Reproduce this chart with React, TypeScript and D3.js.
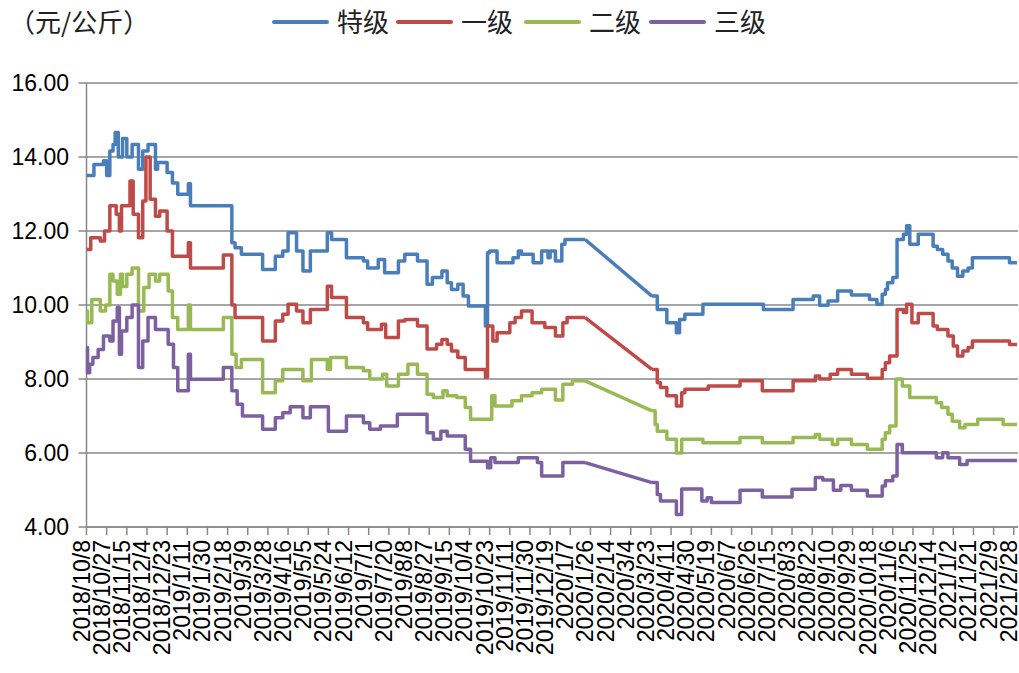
import React, { useEffect, useRef } from 'react';
import * as d3 from 'd3';

// x axis tick labels (every 19 days)
const xTickLabels = [
  '2018/10/8', '2018/10/27', '2018/11/15', '2018/12/4', '2018/12/23',
  '2019/1/11', '2019/1/30', '2019/2/18', '2019/3/9', '2019/3/28', '2019/4/16',
  '2019/5/5', '2019/5/24', '2019/6/12', '2019/7/1', '2019/7/20', '2019/8/8',
  '2019/8/27', '2019/9/15', '2019/10/4', '2019/10/23', '2019/11/11',
  '2019/11/30', '2019/12/19', '2020/1/7', '2020/1/26', '2020/2/14', '2020/3/4',
  '2020/3/23', '2020/4/11', '2020/4/30', '2020/5/19', '2020/6/7', '2020/6/26',
  '2020/7/15', '2020/8/3', '2020/8/22', '2020/9/10', '2020/9/29', '2020/10/18',
  '2020/11/6', '2020/11/25', '2020/12/14', '2021/1/2', '2021/1/21', '2021/2/9',
  '2021/2/28',
];
const yTicks = [4, 6, 8, 10, 12, 14, 16];

// no trading between these two dates, Excel joins them with a straight line
const gapStart = '2020/1/21';
const gapEnd = '2020/3/24';

const seriesNames = ['特级', '一级', '二级', '三级'];
const seriesColors = ['#4a7ebb', '#be4b48', '#98b954', '#7d60a0'];

// [date a price starts, price]
const teji: [string, number][] = [
  ['2018/10/8', 13.5], ['2018/10/15', 13.8], ['2018/10/24', 13.9], ['2018/10/27', 13.5],
  ['2018/10/30', 14.16], ['2018/11/2', 14.34], ['2018/11/4', 14.66], ['2018/11/7', 14.0],
  ['2018/11/11', 14.5], ['2018/11/15', 14.0], ['2018/11/20', 14.34], ['2018/11/26', 13.67],
  ['2018/11/30', 14.16], ['2018/12/5', 14.34], ['2018/12/12', 13.67], ['2018/12/14', 13.85],
  ['2018/12/23', 13.58], ['2018/12/28', 13.3], ['2019/1/2', 12.99], ['2019/1/12', 13.28],
  ['2019/1/14', 12.68], ['2019/2/22', 11.68], ['2019/2/25', 11.55], ['2019/3/3', 11.37],
  ['2019/3/23', 10.96], ['2019/4/4', 11.32], ['2019/4/11', 11.46], ['2019/4/16', 11.95],
  ['2019/4/24', 11.46], ['2019/4/30', 10.92], ['2019/5/7', 11.46], ['2019/5/23', 11.95],
  ['2019/5/27', 11.77], ['2019/6/10', 11.28], ['2019/6/26', 11.19], ['2019/6/30', 11.0],
  ['2019/7/10', 11.23], ['2019/7/16', 10.87], ['2019/7/29', 11.19], ['2019/8/4', 11.37],
  ['2019/8/16', 11.19], ['2019/8/25', 10.56], ['2019/8/30', 10.74], ['2019/9/8', 10.92],
  ['2019/9/13', 10.6], ['2019/9/17', 10.42], ['2019/9/23', 10.56], ['2019/9/28', 10.24],
  ['2019/10/3', 9.97], ['2019/10/19', 9.43], ['2019/10/21', 11.41], ['2019/10/23', 11.46],
  ['2019/10/30', 11.14], ['2019/11/14', 11.28], ['2019/11/19', 11.46], ['2019/11/22', 11.37],
  ['2019/12/3', 11.14], ['2019/12/11', 11.46], ['2019/12/17', 11.28], ['2019/12/19', 11.46],
  ['2019/12/24', 11.19], ['2019/12/30', 11.64], ['2020/1/2', 11.77], ['2020/1/21', 11.77],
  ['2020/3/24', 10.24], ['2020/3/29', 9.88], ['2020/4/7', 9.52], ['2020/4/16', 9.25],
  ['2020/4/19', 9.61], ['2020/4/24', 9.75], ['2020/5/11', 10.02], ['2020/7/7', 9.88],
  ['2020/8/4', 10.15], ['2020/8/23', 10.24], ['2020/8/29', 9.99], ['2020/9/6', 10.11],
  ['2020/9/15', 10.38], ['2020/9/28', 10.27], ['2020/10/15', 10.15], ['2020/10/22', 10.02],
  ['2020/10/27', 10.29], ['2020/10/30', 10.42], ['2020/11/1', 10.6], ['2020/11/6', 10.74],
  ['2020/11/10', 11.77], ['2020/11/16', 11.91], ['2020/11/19', 12.14], ['2020/11/22', 11.64],
  ['2020/11/30', 11.91], ['2020/12/14', 11.59], ['2020/12/18', 11.5], ['2020/12/23', 11.37],
  ['2020/12/28', 11.19], ['2021/1/1', 11.0], ['2021/1/6', 10.78], ['2021/1/11', 10.92],
  ['2021/1/16', 11.0], ['2021/1/20', 11.28], ['2021/2/24', 11.14], ['2021/3/3', 11.14],
];

const yiji: [string, number][] = [
  ['2018/10/8', 11.5], ['2018/10/12', 11.82], ['2018/10/21', 11.73], ['2018/10/25', 12.0],
  ['2018/10/30', 12.68], ['2018/11/5', 12.45], ['2018/11/8', 12.0], ['2018/11/10', 12.68],
  ['2018/11/18', 13.35], ['2018/11/21', 12.45], ['2018/11/26', 11.82], ['2018/11/30', 12.81],
  ['2018/12/3', 14.0], ['2018/12/7', 12.86], ['2018/12/12', 12.4], ['2018/12/16', 12.54],
  ['2018/12/23', 12.0], ['2018/12/28', 11.32], ['2019/1/12', 11.68], ['2019/1/14', 11.0],
  ['2019/2/14', 11.35], ['2019/2/22', 10.0], ['2019/2/25', 9.66], ['2019/3/23', 9.03],
  ['2019/4/4', 9.57], ['2019/4/11', 9.75], ['2019/4/16', 10.02], ['2019/4/24', 9.84],
  ['2019/4/30', 9.52], ['2019/5/7', 9.88], ['2019/5/23', 10.51], ['2019/5/27', 10.2],
  ['2019/6/10', 9.66], ['2019/6/26', 9.52], ['2019/6/30', 9.34], ['2019/7/13', 9.48],
  ['2019/7/17', 9.12], ['2019/7/29', 9.57], ['2019/8/4', 9.61], ['2019/8/16', 9.43],
  ['2019/8/25', 8.81], ['2019/9/3', 8.94], ['2019/9/8', 9.07], ['2019/9/13', 8.94],
  ['2019/9/17', 8.76], ['2019/9/23', 8.58], ['2019/9/30', 8.26], ['2019/10/19', 8.05],
  ['2019/10/21', 9.43], ['2019/10/26', 9.03], ['2019/10/30', 9.25], ['2019/11/11', 9.52],
  ['2019/11/16', 9.66], ['2019/11/22', 9.84], ['2019/12/2', 9.52], ['2019/12/14', 9.39],
  ['2019/12/24', 9.16], ['2019/12/31', 9.52], ['2020/1/4', 9.66], ['2020/1/21', 9.66],
  ['2020/3/24', 8.26], ['2020/3/29', 7.9], ['2020/4/1', 7.77], ['2020/4/7', 7.55],
  ['2020/4/16', 7.27], ['2020/4/21', 7.63], ['2020/4/24', 7.72], ['2020/5/16', 7.81],
  ['2020/6/15', 7.95], ['2020/7/6', 7.68], ['2020/8/4', 7.95], ['2020/8/25', 8.08],
  ['2020/8/29', 8.0], ['2020/9/8', 8.13], ['2020/9/15', 8.26], ['2020/9/28', 8.13],
  ['2020/10/13', 8.02], ['2020/10/27', 8.26], ['2020/10/30', 8.44], ['2020/11/3', 8.62],
  ['2020/11/10', 9.88], ['2020/11/16', 9.8], ['2020/11/19', 10.02], ['2020/11/24', 9.52],
  ['2020/11/30', 9.77], ['2020/12/14', 9.43], ['2020/12/18', 9.34], ['2020/12/28', 9.16],
  ['2021/1/2', 8.89], ['2021/1/6', 8.62], ['2021/1/11', 8.76], ['2021/1/16', 8.85],
  ['2021/1/20', 9.03], ['2021/2/24', 8.93], ['2021/3/3', 8.93],
];

const erji: [string, number][] = [
  ['2018/10/8', 9.84], ['2018/10/9', 9.52], ['2018/10/13', 10.15], ['2018/10/21', 9.84],
  ['2018/10/26', 10.0], ['2018/10/30', 10.83], ['2018/11/2', 10.65], ['2018/11/6', 10.29],
  ['2018/11/9', 10.83], ['2018/11/11', 10.5], ['2018/11/15', 10.83], ['2018/11/20', 11.0],
  ['2018/11/26', 9.84], ['2018/12/1', 10.47], ['2018/12/6', 10.83], ['2018/12/12', 10.65],
  ['2018/12/16', 10.83], ['2018/12/24', 10.38], ['2018/12/28', 9.66], ['2019/1/2', 9.34],
  ['2019/1/12', 10.0], ['2019/1/14', 9.34], ['2019/2/14', 9.66], ['2019/2/22', 8.67],
  ['2019/2/26', 8.31], ['2019/3/3', 8.53], ['2019/3/23', 7.63], ['2019/4/4', 7.95],
  ['2019/4/11', 8.26], ['2019/4/30', 7.95], ['2019/5/8', 8.53], ['2019/5/23', 8.26],
  ['2019/5/26', 8.58], ['2019/6/10', 8.31], ['2019/6/26', 8.22], ['2019/7/2', 8.0],
  ['2019/7/14', 8.13], ['2019/7/18', 7.81], ['2019/7/29', 8.13], ['2019/8/7', 8.4],
  ['2019/8/16', 8.13], ['2019/8/25', 7.59], ['2019/8/31', 7.5], ['2019/9/9', 7.68],
  ['2019/9/13', 7.55], ['2019/9/22', 7.5], ['2019/9/30', 7.23], ['2019/10/5', 6.91],
  ['2019/10/25', 7.55], ['2019/10/28', 7.27], ['2019/11/13', 7.41], ['2019/11/22', 7.55],
  ['2019/12/2', 7.63], ['2019/12/11', 7.72], ['2019/12/24', 7.43], ['2019/12/31', 7.86],
  ['2020/1/9', 7.95], ['2020/1/21', 7.95], ['2020/3/24', 7.14], ['2020/3/27', 6.77],
  ['2020/3/29', 6.59], ['2020/4/7', 6.37], ['2020/4/16', 6.0], ['2020/4/21', 6.37],
  ['2020/5/11', 6.28], ['2020/6/15', 6.42], ['2020/7/6', 6.28], ['2020/8/4', 6.42],
  ['2020/8/25', 6.5], ['2020/8/29', 6.37], ['2020/9/10', 6.23], ['2020/9/15', 6.37],
  ['2020/9/28', 6.23], ['2020/10/13', 6.1], ['2020/10/27', 6.37], ['2020/10/30', 6.55],
  ['2020/11/3', 6.73], ['2020/11/9', 8.0], ['2020/11/15', 7.81], ['2020/11/22', 7.5],
  ['2020/12/17', 7.36], ['2020/12/22', 7.23], ['2020/12/28', 7.05], ['2021/1/1', 6.86],
  ['2021/1/8', 6.68], ['2021/1/13', 6.77], ['2021/1/25', 6.91], ['2021/2/18', 6.77],
  ['2021/3/3', 6.77],
];

const sanji: [string, number][] = [
  ['2018/10/8', 8.85], ['2018/10/9', 8.17], ['2018/10/11', 8.4], ['2018/10/14', 8.58],
  ['2018/10/19', 8.8], ['2018/10/24', 9.16], ['2018/10/30', 9.03], ['2018/11/2', 9.57],
  ['2018/11/6', 9.93], ['2018/11/8', 8.67], ['2018/11/10', 9.3], ['2018/11/15', 9.66],
  ['2018/11/20', 10.0], ['2018/11/26', 8.31], ['2018/11/30', 9.03], ['2018/12/5', 9.66],
  ['2018/12/12', 9.34], ['2018/12/24', 8.94], ['2018/12/29', 8.31], ['2019/1/2', 7.68],
  ['2019/1/12', 8.67], ['2019/1/14', 7.99], ['2019/2/14', 8.31], ['2019/2/22', 7.68],
  ['2019/2/27', 7.32], ['2019/3/4', 7.0], ['2019/3/23', 6.64], ['2019/4/4', 6.95],
  ['2019/4/11', 7.09], ['2019/4/18', 7.25], ['2019/4/30', 6.95], ['2019/5/7', 7.25],
  ['2019/5/24', 6.59], ['2019/6/10', 7.0], ['2019/6/26', 6.82], ['2019/7/2', 6.64],
  ['2019/7/12', 6.73], ['2019/7/28', 7.05], ['2019/8/25', 6.55], ['2019/8/31', 6.37],
  ['2019/9/7', 6.59], ['2019/9/13', 6.46], ['2019/9/30', 6.1], ['2019/10/5', 5.78],
  ['2019/10/21', 5.6], ['2019/10/24', 5.87], ['2019/10/28', 5.74], ['2019/11/19', 5.87],
  ['2019/12/7', 5.74], ['2019/12/11', 5.38], ['2019/12/31', 5.74], ['2020/1/21', 5.74],
  ['2020/3/24', 5.2], ['2020/3/29', 4.88], ['2020/4/1', 4.7], ['2020/4/16', 4.34],
  ['2020/4/21', 5.03], ['2020/5/10', 4.7], ['2020/5/15', 4.79], ['2020/5/19', 4.66],
  ['2020/6/15', 4.99], ['2020/7/6', 4.81], ['2020/8/3', 5.02], ['2020/8/25', 5.34],
  ['2020/9/1', 5.27], ['2020/9/11', 4.99], ['2020/9/18', 5.12], ['2020/9/28', 4.99],
  ['2020/10/13', 4.84], ['2020/10/27', 5.11], ['2020/10/30', 5.25], ['2020/11/6', 5.38],
  ['2020/11/10', 6.23], ['2020/11/15', 6.01], ['2020/12/17', 5.87], ['2020/12/23', 6.01],
  ['2020/12/28', 5.87], ['2021/1/8', 5.69], ['2021/1/15', 5.8], ['2021/3/3', 5.8],
];

const allSeries = [teji, yiji, erji, sanji];

const parseDate = (s: string) => {
  const [y, m, d] = s.split('/').map(Number);
  return new Date(Date.UTC(y, m - 1, d));
};

export default function App() {
  const ref = useRef<SVGSVGElement>(null);

  useEffect(() => {
    const width = 1019;
    const height = 673;
    const plot = { left: 86.5, right: 1018, top: 83, bottom: 527 };

    const svg = d3.select(ref.current);
    svg.selectAll('*').remove();
    svg.attr('width', width).attr('height', height);

    const x = d3.scaleUtc()
      .domain([parseDate('2018/10/8'), parseDate('2021/3/4')])
      .range([plot.left, plot.right]);
    const y = d3.scaleLinear()
      .domain([4, 16])
      .range([plot.bottom, plot.top]);

    const gray = '#888888';

    // horizontal gridlines
    svg.append('g')
      .selectAll('line')
      .data(yTicks)
      .enter()
      .append('line')
      .attr('x1', plot.left - 8)
      .attr('x2', plot.right)
      .attr('y1', (d) => y(d))
      .attr('y2', (d) => y(d))
      .style('stroke', gray)
      .style('stroke-width', 1.5);

    // y labels
    svg.append('g')
      .selectAll('text')
      .data(yTicks)
      .enter()
      .append('text')
      .attr('x', 69)
      .attr('y', (d) => y(d))
      .attr('dy', '0.36em')
      .attr('text-anchor', 'end')
      .style('font-family', 'Arial, "Liberation Sans", sans-serif')
      .style('font-size', '23px')
      .style('fill', '#000')
      .text((d) => d.toFixed(2));

    // y axis line
    svg.append('line')
      .attr('x1', plot.left).attr('x2', plot.left)
      .attr('y1', plot.top).attr('y2', plot.bottom)
      .style('stroke', gray)
      .style('stroke-width', 1.5);

    // x ticks + labels
    const xt = svg.append('g');
    xTickLabels.forEach((lab) => {
      const px = x(parseDate(lab));
      xt.append('line')
        .attr('x1', px).attr('x2', px)
        .attr('y1', plot.bottom).attr('y2', plot.bottom + 8)
        .style('stroke', gray)
        .style('stroke-width', 1.5);
      xt.append('text')
        .attr('transform', 'translate(' + (px + 3) + ',' + (plot.bottom + 13) + ') rotate(-90)')
        .attr('text-anchor', 'end')
        .style('font-family', 'Arial, "Liberation Sans", sans-serif')
        .style('font-size', '23px')
        .style('fill', '#000')
        .text(lab);
    });

    // series lines: step shape, straight join across the gap
    const g0 = parseDate(gapStart).getTime();
    const g1 = parseDate(gapEnd).getTime();
    const stepLine = d3.line<[Date, number]>()
      .x((d) => x(d[0]))
      .y((d) => y(d[1]))
      .curve(d3.curveStepAfter);
    const straight = d3.line<[Date, number]>()
      .x((d) => x(d[0]))
      .y((d) => y(d[1]));

    allSeries.forEach((series, i) => {
      const pts: [Date, number][] = series.map((p) => [parseDate(p[0]), p[1]]);
      const before = pts.filter((p) => p[0].getTime() <= g0);
      const after = pts.filter((p) => p[0].getTime() >= g1);
      const pathD = (stepLine(before) || '') +
        (straight([before[before.length - 1], after[0]]) || '') +
        (stepLine(after) || '');
      svg.append('path')
        .attr('d', pathD)
        .style('fill', 'none')
        .style('stroke', seriesColors[i])
        .style('stroke-width', 3.5)
        .style('stroke-linejoin', 'round');
    });

    // x axis line on top
    svg.append('line')
      .attr('x1', plot.left).attr('x2', plot.right)
      .attr('y1', plot.bottom).attr('y2', plot.bottom)
      .style('stroke', gray)
      .style('stroke-width', 1.5);

    // unit label
    const cjk = '"Noto Sans CJK SC", "Noto Sans", sans-serif';
    svg.append('text')
      .attr('x', 9)
      .attr('y', 32)
      .style('font-family', cjk)
      .style('font-size', '26px')
      .style('fill', '#222')
      .text('（元/公斤）');

    // legend
    const legendX = [274, 398, 526, 651];
    seriesNames.forEach((name, i) => {
      svg.append('line')
        .attr('x1', legendX[i]).attr('x2', legendX[i] + 53)
        .attr('y1', 22).attr('y2', 22)
        .style('stroke', seriesColors[i])
        .style('stroke-width', 4)
        .style('stroke-linecap', 'round');
      svg.append('text')
        .attr('x', legendX[i] + 63)
        .attr('y', 32)
        .style('font-family', cjk)
        .style('font-size', '26px')
        .style('fill', '#222')
        .text(name);
    });
  }, []);

  return (
    <svg ref={ref} style={{ position: 'absolute', left: 0, top: 0, background: '#fff' }} />
  );
}
